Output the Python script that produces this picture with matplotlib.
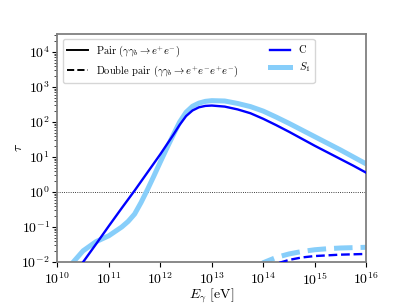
import numpy as np
import matplotlib
matplotlib.use("Agg")
import matplotlib.pyplot as plt

plt.rcParams['font.family'] = 'serif'
plt.rcParams['font.serif'] = ['cmr10', 'DejaVu Serif']
plt.rcParams['mathtext.fontset'] = 'cm'
plt.rcParams['axes.formatter.use_mathtext'] = True

# log10(E_gamma / eV) and log10(tau)
logE_c = [10.25, 10.5, 10.75, 11.0, 11.25, 11.5, 11.75, 12.0, 12.25, 12.375,
          12.5, 12.625, 12.75, 12.875, 13.0, 13.25, 13.5, 13.75, 14.0, 14.25,
          14.5, 14.75, 15.0, 15.25, 15.5, 15.75, 16.0]
logtau_c = [-2.5, -2.0, -1.49, -0.97, -0.46, 0.04, 0.56, 1.08, 1.63, 1.92,
            2.17, 2.33, 2.42, 2.46, 2.47, 2.44, 2.36, 2.25, 2.09, 1.91,
            1.72, 1.52, 1.32, 1.13, 0.94, 0.75, 0.55]

logE_s1 = [10.0, 10.25, 10.5, 10.75, 11.0, 11.25, 11.375, 11.5, 11.625, 11.75,
           11.875, 12.0, 12.125, 12.25, 12.375, 12.5, 12.625, 12.75, 12.875, 13.0,
           13.25, 13.5, 13.75, 14.0, 14.25, 14.5, 14.75, 15.0, 15.25, 15.5,
           15.75, 16.0]
logtau_s1 = [-2.6, -2.1, -1.68, -1.42, -1.25, -1.0, -0.84, -0.63, -0.3, 0.07,
             0.46, 0.86, 1.25, 1.63, 2.0, 2.28, 2.45, 2.54, 2.59, 2.61,
             2.6, 2.53, 2.44, 2.31, 2.14, 1.96, 1.77, 1.58, 1.39, 1.2,
             1.0, 0.8]

logE_dc = [14.1, 14.25, 14.5, 14.75, 15.0, 15.25, 15.5, 15.75, 16.0]
logtau_dc = [-2.2, -2.05, -1.94, -1.87, -1.83, -1.81, -1.79, -1.78, -1.77]

logE_ds1 = [13.9, 14.0, 14.25, 14.5, 14.75, 15.0, 15.25, 15.5, 15.75, 16.0]
logtau_ds1 = [-2.15, -2.02, -1.87, -1.77, -1.7, -1.65, -1.62, -1.6, -1.59, -1.58]

x_ticks = [1e10, 1e11, 1e12, 1e13, 1e14, 1e15, 1e16]
y_ticks = [1e-2, 1e-1, 1e0, 1e1, 1e2, 1e3, 1e4]

C_COLOR = "blue"
S1_COLOR = "lightskyblue"

fig = plt.figure(figsize=(4.07, 3.05), dpi=100)
ax = fig.add_axes([0.141, 0.141, 0.759, 0.748])

def pw(v):
    return 10.0 ** np.asarray(v)

ax.plot(pw(logE_c), pw(logtau_c), color=C_COLOR, lw=1.7, zorder=3)
ax.plot(pw(logE_s1), pw(logtau_s1), color=S1_COLOR, lw=3.6, zorder=2)
ax.plot(pw(logE_dc), pw(logtau_dc), color=C_COLOR, lw=1.7, ls="--", zorder=3)
ax.plot(pw(logE_ds1), pw(logtau_ds1), color=S1_COLOR, lw=3.6, ls="--", zorder=2)

ax.axhline(1.0, color="black", lw=0.6, ls=":", zorder=1)

ax.set_xscale("log")
ax.set_yscale("log")
ax.set_xticks(x_ticks)
ax.set_yticks(y_ticks)
ax.set_xlim(1e10, 1e16)
ax.set_ylim(1e-2, 3.3e4)
ax.xaxis.set_minor_locator(matplotlib.ticker.NullLocator())
ax.yaxis.set_minor_locator(matplotlib.ticker.LogLocator(base=10, subs=np.arange(2, 10), numticks=20))
ax.yaxis.set_minor_formatter(matplotlib.ticker.NullFormatter())
ax.tick_params(which="minor", length=2, width=0.5)
ax.tick_params(axis="y", which="major", pad=2)

ax.set_xlabel(r"$E_\gamma$ [eV]", labelpad=-1)
ax.set_ylabel(r"$\tau$", labelpad=-3)

for sp in ax.spines.values():
    sp.set_color("#808080")
    sp.set_linewidth(1.3)

handles = [
    plt.Line2D([], [], color="black", lw=1.4),
    plt.Line2D([], [], color="black", lw=1.4, ls="--"),
    plt.Line2D([], [], color=C_COLOR, lw=1.7),
    plt.Line2D([], [], color=S1_COLOR, lw=3.6),
]
labels = [
    r"Pair ($\gamma\gamma_b \rightarrow e^{+}e^{-}$)",
    r"Double pair ($\gamma\gamma_b \rightarrow e^{+}e^{-}e^{+}e^{-}$)",
    "C",
    r"$S_1$",
]
ax.legend(handles, labels, ncol=2, loc="upper left", fontsize=7.5,
          columnspacing=3.0)

fig.savefig("out.png", dpi=100)
